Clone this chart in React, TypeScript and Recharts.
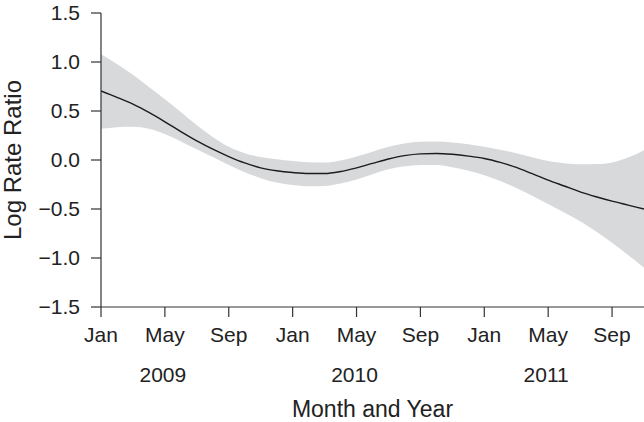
import { ComposedChart, Area, Line, XAxis, YAxis, Label } from 'recharts'

// months since Jan 2009
const months = [
  0, 1, 2, 3, 4, 5, 6, 7, 8, 9, 10, 11, 12, 13, 14, 15, 16, 17,
  18, 19, 20, 21, 22, 23, 24, 25, 26, 27, 28, 29, 30, 31, 32, 33, 34,
]

const fit = [
  0.705, 0.64, 0.57, 0.485, 0.39, 0.29, 0.195, 0.11, 0.035, -0.03, -0.08, -0.11,
  -0.128, -0.138, -0.138, -0.118, -0.08, -0.035, 0.01, 0.045, 0.063, 0.067, 0.058, 0.04,
  0.015, -0.025, -0.075, -0.14, -0.205, -0.265, -0.325, -0.375, -0.42, -0.46, -0.5,
]

const upper = [
  1.08, 0.98, 0.87, 0.745, 0.62, 0.49, 0.355, 0.235, 0.135, 0.07, 0.03, 0.008,
  -0.01, -0.024, -0.026, -0.005, 0.035, 0.085, 0.135, 0.168, 0.185, 0.188, 0.178, 0.16,
  0.135, 0.105, 0.07, 0.028, -0.01, -0.033, -0.044, -0.042, -0.025, 0.025, 0.1,
]

const lower = [
  0.32, 0.335, 0.34, 0.32, 0.265, 0.19, 0.11, 0.03, -0.05, -0.125, -0.185, -0.23,
  -0.255, -0.268, -0.265, -0.24, -0.2, -0.145, -0.095, -0.065, -0.05, -0.052, -0.075, -0.11,
  -0.155, -0.215, -0.285, -0.365, -0.45, -0.535, -0.625, -0.73, -0.845, -0.97, -1.1,
]

const monthTicks = [0, 4, 8, 12, 16, 20, 24, 28, 32]
const monthNames = ['Jan', 'Feb', 'Mar', 'Apr', 'May', 'Jun', 'Jul', 'Aug', 'Sep', 'Oct', 'Nov', 'Dec']
const yTicks = [-1.5, -1, -0.5, 0, 0.5, 1, 1.5]

const data = months.map((m, i) => ({
  m,
  fit: fit[i],
  band: [lower[i], upper[i]],
}))

const FONT = '"Liberation Sans", Arial, Helvetica, sans-serif'
const INK = '#222'

function MonthTick({ x, y, payload }: any) {
  const m = payload.value
  const showYear = m % 12 === 4
  return (
    <g>
      <text x={x} y={y} dy="0.71em" textAnchor="middle" fontSize={21} fill={INK} fontFamily={FONT}>
        {monthNames[m % 12]}
      </text>
      {showYear && (
        <text x={x - 2} y={y + 40} dy="0.71em" textAnchor="middle" fontSize={21} fill={INK} fontFamily={FONT}>
          {2009 + Math.floor(m / 12)}
        </text>
      )}
    </g>
  )
}

const fmtY = (v: number) => {
  const s = Math.abs(v).toFixed(1)
  return v < 0 ? '\u2212' + s : s
}

export default function App() {
  return (
    <div style={{ position: 'absolute', left: 0, top: 0, background: '#fff' }}>
      <ComposedChart
        width={644}
        height={422}
        data={data}
        margin={{ top: 13, right: 0, bottom: 0, left: 0 }}
        style={{ fontFamily: FONT }}
      >
        <XAxis
          dataKey="m"
          type="number"
          domain={[0, 34]}
          ticks={monthTicks}
          allowDataOverflow
          height={115}
          tickSize={10}
          tickMargin={10}
          tick={<MonthTick />}
          axisLine={{ stroke: '#333', strokeWidth: 1.2 }}
          tickLine={{ stroke: '#333', strokeWidth: 1.2 }}
          interval={0}
        >
          <Label
            content={({ viewBox }: any) => (
              <text
                x={viewBox.x + viewBox.width / 2}
                y={417}
                textAnchor="middle"
                fontSize={23}
                fill={INK}
                fontFamily={FONT}
              >
                Month and Year
              </text>
            )}
          />
        </XAxis>
        <YAxis
          type="number"
          domain={[-1.5, 1.5]}
          ticks={yTicks}
          width={101}
          tickSize={10}
          tickMargin={11}
          tickFormatter={fmtY}
          tick={{ fontSize: 21, fill: INK, fontFamily: FONT }}
          axisLine={{ stroke: '#333', strokeWidth: 1.2 }}
          tickLine={{ stroke: '#333', strokeWidth: 1.2 }}
          interval={0}
        >
          <Label
            content={() => (
              <text
                x={21}
                y={160}
                transform="rotate(-90 21 160)"
                textAnchor="middle"
                fontSize={24}
                fill={INK}
                fontFamily={FONT}
              >
                Log Rate Ratio
              </text>
            )}
          />
        </YAxis>
        <Area
          dataKey="band"
          type="monotone"
          fill="#d8d9db"
          fillOpacity={1}
          stroke="none"
          dot={false}
          activeDot={false}
          isAnimationActive={false}
        />
        <Line
          dataKey="fit"
          type="monotone"
          stroke="#1c1c1c"
          strokeWidth={1.4}
          dot={false}
          activeDot={false}
          isAnimationActive={false}
        />
      </ComposedChart>
    </div>
  )
}
